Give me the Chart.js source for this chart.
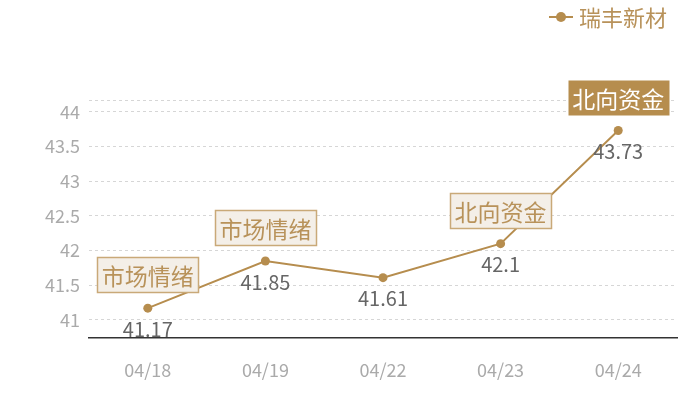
<!DOCTYPE html>
<html>
<head>
<meta charset="utf-8">
<script src="https://cdn.jsdelivr.net/npm/chart.js@4.4.1/dist/chart.umd.min.js"></script>
<style>
  html, body { margin: 0; padding: 0; background: #fff; }
  #wrap { width: 700px; height: 400px; }
</style>
</head>
<body>
<div id="wrap"><canvas id="chart"></canvas></div>
<script>
// data
const categories = ["04/18", "04/19", "04/22", "04/23", "04/24"];
const prices = [41.17, 41.85, 41.61, 42.1, 43.73];
const tags = ["市场情绪", "市场情绪", null, "北向资金", "北向资金"];
const highlightTag = 4; // the filled box
const yTicks = [41, 41.5, 42, 42.5, 43, 43.5, 44];
const seriesName = "瑞丰新材";

const GOLD = "#b68d4e";
const FONT = "'Noto Sans CJK SC', 'Noto Sans', sans-serif";

// legend, point value labels and tag boxes
const overlay = {
    id: "overlay",
    afterDatasetsDraw(chart) {
        const ctx = chart.ctx;
        const xs = chart.scales.x, ys = chart.scales.y;
        ctx.save();

        // value under each point
        ctx.font = "20px " + FONT;
        ctx.fillStyle = "#666";
        ctx.textAlign = "center";
        ctx.textBaseline = "middle";
        prices.forEach((v, i) => {
            ctx.fillText(String(v), xs.getPixelForValue(i), ys.getPixelForValue(v) + 21);
        });

        // tag boxes above points
        ctx.font = "23px " + FONT;
        tags.forEach((t, i) => {
            if (!t) return;
            const x = xs.getPixelForValue(i);
            const y = ys.getPixelForValue(prices[i]);
            const w = ctx.measureText(t).width + 9, h = 35;
            const bx = Math.round(x - w / 2) + 0.5, by = Math.round(y - 16 - h) + 0.5;
            if (i === highlightTag) {
                ctx.fillStyle = GOLD;
                ctx.fillRect(bx, by, w, h);
                ctx.fillStyle = "#fff";
            } else {
                ctx.fillStyle = "#f4efe8";
                ctx.fillRect(bx, by, w, h);
                ctx.strokeStyle = "#c9a978";
                ctx.lineWidth = 1.5;
                ctx.strokeRect(bx, by, w, h);
                ctx.fillStyle = "#b8925a";
            }
            ctx.fillText(t, x, by + h / 2 + 1);
        });

        // legend top right
        ctx.strokeStyle = GOLD;
        ctx.lineWidth = 2;
        ctx.beginPath();
        ctx.moveTo(549, 17);
        ctx.lineTo(573, 17);
        ctx.stroke();
        ctx.fillStyle = GOLD;
        ctx.beginPath();
        ctx.arc(561, 17, 5, 0, Math.PI * 2);
        ctx.fill();
        ctx.font = "22px " + FONT;
        ctx.fillStyle = "#b8925a";
        ctx.textAlign = "left";
        ctx.fillText(seriesName, 579, 18);

        ctx.restore();
    }
};

new Chart(document.getElementById("chart"), {
    type: "line",
    data: {
        labels: categories,
        datasets: [{
            label: seriesName,
            data: prices,
            borderColor: GOLD,
            backgroundColor: GOLD,
            borderWidth: 2,
            pointRadius: 4.5,
            pointBorderWidth: 0,
            tension: 0
        }]
    },
    options: {
        responsive: true,
        maintainAspectRatio: false,
        animation: false,
        layout: { padding: { top: 100, right: 23, bottom: 0, left: 0 } },
        plugins: { legend: { display: false }, tooltip: { enabled: false } },
        scales: {
            x: {
                offset: true,
                afterFit(scale) { scale.height = 62; },
                grid: { display: false },
                border: { display: true, color: "#333", width: 1.5 },
                ticks: { color: "#aaa", font: { family: FONT, size: 18 }, padding: 13 }
            },
            y: {
                min: 40.74,
                max: 44.17,
                afterBuildTicks(scale) {
                    scale.ticks = yTicks.map(v => ({ value: v })).concat([{ value: scale.max }]);
                },
                afterFit(scale) { scale.width = 89; },
                grid: { color: "#d6d6d6", lineWidth: 1, drawTicks: false },
                border: { display: false, dash: [3, 3] },
                ticks: {
                    color: "#aaa",
                    font: { family: FONT, size: 18 },
                    padding: 9,
                    callback: v => (yTicks.includes(v) ? String(v) : "")
                }
            }
        }
    },
    plugins: [overlay]
});
</script>
</body>
</html>
